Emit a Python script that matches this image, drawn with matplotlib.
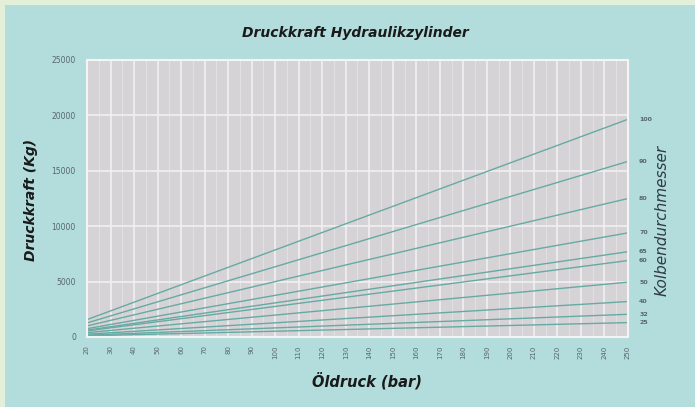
import matplotlib.pyplot as plt
from matplotlib.patches import Rectangle

# Oeldruck in bar (Anfang / Ende jeder Linie)
pressure = [20, 250]

diameters = ["100", "90", "80", "70", "65", "60", "50", "40", "32", "25"]
force_20 = [1570, 1270, 1000, 750, 615, 550, 395, 255, 165, 105]
force_250 = [19650, 15850, 12500, 9400, 7700, 6900, 4950, 3200, 2050, 1300]

x_ticks = list(range(20, 251, 10))
y_ticks = [0, 5000, 10000, 15000, 20000, 25000]

panel = "#b3dcdc"
plot_bg = "#d6d3d6"
line_col = "#66aaa4"
text_col = "#56666c"

fig = plt.figure(figsize=(6.95, 4.07), dpi=100)
fig.patch.set_facecolor("#e4efda")
fig.patches.append(Rectangle((5 / 695, 0), 1, 1 - 5 / 407, transform=fig.transFigure,
                             facecolor=panel, edgecolor="none", zorder=-10))

ax = fig.add_axes([87 / 695, 1 - 337 / 407, 541 / 695, 277 / 407])
ax.set_zorder(2)
ax.set_facecolor(plot_bg)
ax.set_xlim(20, 250)
ax.set_ylim(0, 25000)

ax.set_xticks(x_ticks)
ax.set_xticks([v + 5 for v in x_ticks[:-1]], minor=True)
ax.set_yticks(y_ticks)
ax.grid(True, which="major", color="#f1eff1", linewidth=1.2)
ax.grid(True, which="minor", axis="x", color="#e2e0e2", linewidth=0.8)
ax.set_axisbelow(True)

ax.tick_params(axis="x", labelrotation=90, labelsize=5, colors=text_col, length=0, pad=6)
ax.tick_params(axis="y", labelsize=5.5, colors=text_col, length=0, pad=8)
ax.tick_params(which="minor", length=0)
for s in ax.spines.values():
    s.set_color("#f4f4f4")
    s.set_linewidth(1.5)

for d, f0, f1 in zip(diameters, force_20, force_250):
    ax.plot(pressure, [f0, f1], color=line_col, linewidth=1.0, solid_capstyle="butt")
    ax.annotate(d, xy=(250, f1), xytext=(8, 0), textcoords="offset points",
                fontsize=4.5, color=text_col, va="center", ha="left", fontweight="bold",
                annotation_clip=False)

fig.text(355 / 695, 1 - 33 / 407, "Druckkraft Hydraulikzylinder", ha="center", va="center",
         fontsize=10, fontweight="heavy", fontstyle="italic", color="#1a1a1a")
fig.text(367 / 695, 1 - 381 / 407, "Öldruck (bar)", ha="center", va="center",
         fontsize=10.5, fontweight="heavy", fontstyle="italic", color="#1a1a1a")
fig.text(31 / 695, 1 - 200 / 407, "Druckkraft (Kg)", ha="center", va="center", rotation=90,
         fontsize=10, fontweight="heavy", fontstyle="italic", color="#1a1a1a")
fig.text(662 / 695, 1 - 220 / 407, "Kolbendurchmesser", ha="center", va="center", rotation=90,
         fontsize=11, fontstyle="italic", color="#2e3c42")

fig.savefig("out.png", dpi=100, facecolor=fig.get_facecolor())
